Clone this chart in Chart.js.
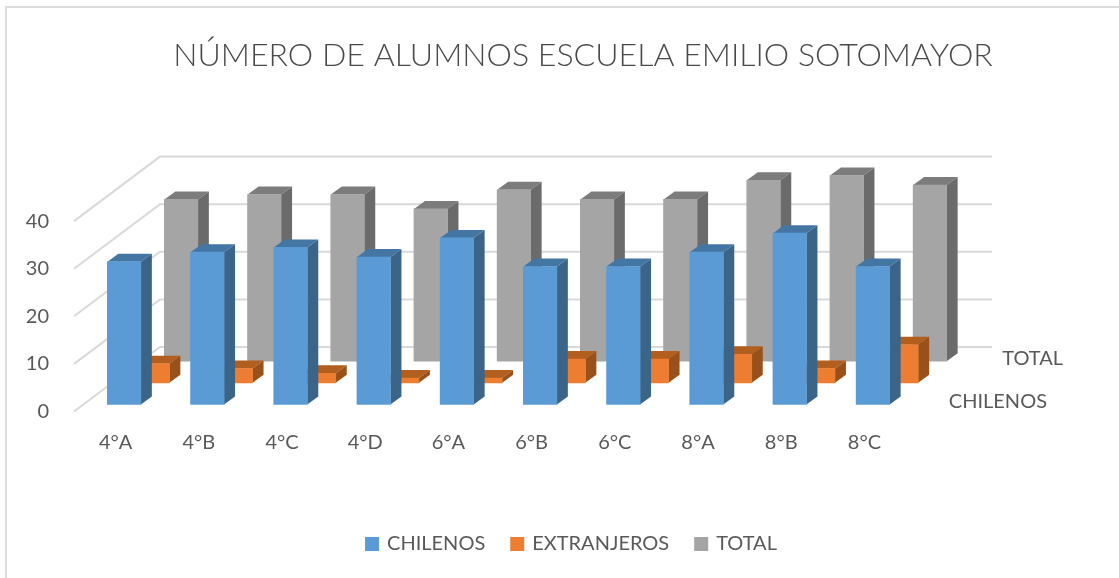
<!DOCTYPE html>
<html lang="es">
<head>
    <meta charset="UTF-8">
    <title>Número de alumnos</title>
    <script src="https://cdn.jsdelivr.net/npm/chart.js"></script>
    <style>
        html, body { margin: 0; padding: 0; background: #fff; overflow: hidden; }
        #wrap { position: relative; width: 1119px; height: 578px; }
        #frame { position: absolute; left: 5px; top: 6px; right: 0; bottom: 0; border-left: 2px solid #DDD; border-top: 2px solid #DDD; }
        canvas { position: absolute; left: 0; top: 0; }
    </style>
</head>
<body>
    <div id="wrap"><div id="frame"></div><canvas id="chart" width="1119" height="578"></canvas></div>
    <script>
        const categories = ['4°A', '4°B', '4°C', '4°D', '6°A', '6°B', '6°C', '8°A', '8°B', '8°C'];
        const chilenos = [30, 32, 33, 31, 35, 29, 29, 32, 36, 29];
        const extranjeros = [4, 3, 2, 1, 1, 5, 5, 6, 3, 8];
        const total = [34, 35, 35, 32, 36, 34, 34, 38, 39, 37];
        const depthLabels = ['CHILENOS', 'TOTAL'];

        const FONT = 'Lato';
        const TEXT = '#595959';

        // fake 3D: each series is shifted back along the floor
        const wallDx = 86, wallDy = -64.5;
        const barDx = 11, barDy = -8;
        const shifts = [
            { dx: 8.5, dy: -7, side: '#3A6589', top: '#4476A3' },
            { dx: 37, dy: -28.7, side: '#995119', top: '#B25E1F' },
            { dx: 65.5, dy: -50.3, side: '#6B6B6B', top: '#7C7C7C' }
        ];

        const wallPlugin = {
            id: 'wall',
            beforeDatasetsDraw(chart) {
                const c = chart.ctx, y = chart.scales.y, a = chart.chartArea;
                c.save();
                c.strokeStyle = '#D9D9D9';
                c.lineWidth = 2;
                y.ticks.forEach(t => {
                    const py = y.getPixelForValue(t.value);
                    c.beginPath();
                    c.moveTo(a.left, py);
                    c.lineTo(a.left + wallDx, py + wallDy);
                    c.lineTo(a.right + wallDx, py + wallDy);
                    c.stroke();
                });
                c.restore();
            },
            afterDatasetsDraw(chart) {
                const c = chart.ctx, a = chart.chartArea;
                c.save();
                c.font = '20px ' + FONT;
                c.fillStyle = TEXT;
                c.textBaseline = 'middle';
                c.textAlign = 'right';
                c.fillText(depthLabels[0], a.right + 141, a.bottom - 10);
                c.fillText(depthLabels[1], a.right + 157, a.bottom - 53);
                c.restore();
            }
        };

        const box3dPlugin = {
            id: 'box3d',
            beforeDatasetDraw(chart, args) {
                const c = chart.ctx, s = shifts[args.index];
                c.save();
                c.translate(s.dx, s.dy);
                args.meta.data.forEach(bar => {
                    const { x, y, base, width } = bar.getProps(['x', 'y', 'base', 'width'], true);
                    const l = x - width / 2, r = x + width / 2;
                    c.fillStyle = s.top;
                    c.beginPath();
                    c.moveTo(l, y);
                    c.lineTo(l + barDx, y + barDy);
                    c.lineTo(r + barDx, y + barDy);
                    c.lineTo(r, y);
                    c.closePath();
                    c.fill();
                    c.fillStyle = s.side;
                    c.beginPath();
                    c.moveTo(r, y);
                    c.lineTo(r + barDx, y + barDy);
                    c.lineTo(r + barDx, base + barDy);
                    c.lineTo(r, base);
                    c.closePath();
                    c.fill();
                });
            },
            afterDatasetDraw(chart) {
                chart.ctx.restore();
            }
        };

        // title and legend sit off centre in the original
        const nudgePlugin = {
            id: 'nudge',
            afterLayout(chart) {
                chart.titleBlock.left += 130;
                chart.titleBlock.right += 130;
                chart.legend.left += 119;
                chart.legend.right += 119;
            }
        };

        new Chart(document.getElementById('chart'), {
            type: 'bar',
            data: {
                labels: categories,
                datasets: [
                    { label: 'CHILENOS', data: chilenos, backgroundColor: '#5B9BD5' },
                    { label: 'EXTRANJEROS', data: extranjeros, backgroundColor: '#ED7D31' },
                    { label: 'TOTAL', data: total, backgroundColor: '#A5A5A5' }
                ]
            },
            options: {
                responsive: false,
                animation: false,
                clip: false,
                layout: { padding: { left: 0, right: 213, top: 0, bottom: 14 } },
                datasets: { bar: { grouped: false, barThickness: 33.5 } },
                scales: {
                    x: {
                        grid: { display: false },
                        border: { display: false },
                        ticks: { color: TEXT, font: { family: FONT, size: 20 }, padding: 11, maxRotation: 0 },
                        afterFit(s) { s.height = 95.5; }
                    },
                    y: {
                        min: 0,
                        max: 40,
                        grid: { display: false },
                        border: { display: false },
                        ticks: { stepSize: 10, color: TEXT, font: { family: FONT, size: 20 }, padding: 17 },
                        afterFit(s) { s.width = 74; }
                    }
                },
                plugins: {
                    title: {
                        display: true,
                        text: 'NÚMERO DE ALUMNOS ESCUELA EMILIO SOTOMAYOR',
                        color: '#4A4A4A',
                        font: { family: FONT, size: 32.1, weight: 300 },
                        padding: { top: 36, bottom: 146.6 }
                    },
                    legend: {
                        position: 'bottom',
                        labels: {
                            color: TEXT,
                            font: { family: FONT, size: 20 },
                            boxWidth: 10,
                            boxHeight: 10,
                            padding: 27,
                            // thick same-colour outline: square stays 14px but sits closer to its text
                            generateLabels(chart) {
                                return Chart.defaults.plugins.legend.labels.generateLabels(chart)
                                    .map(l => ({ ...l, lineWidth: 4, strokeStyle: l.fillStyle }));
                            }
                        }
                    },
                    tooltip: { enabled: false }
                }
            },
            plugins: [wallPlugin, box3dPlugin, nudgePlugin]
        });
    </script>
</body>
</html>
